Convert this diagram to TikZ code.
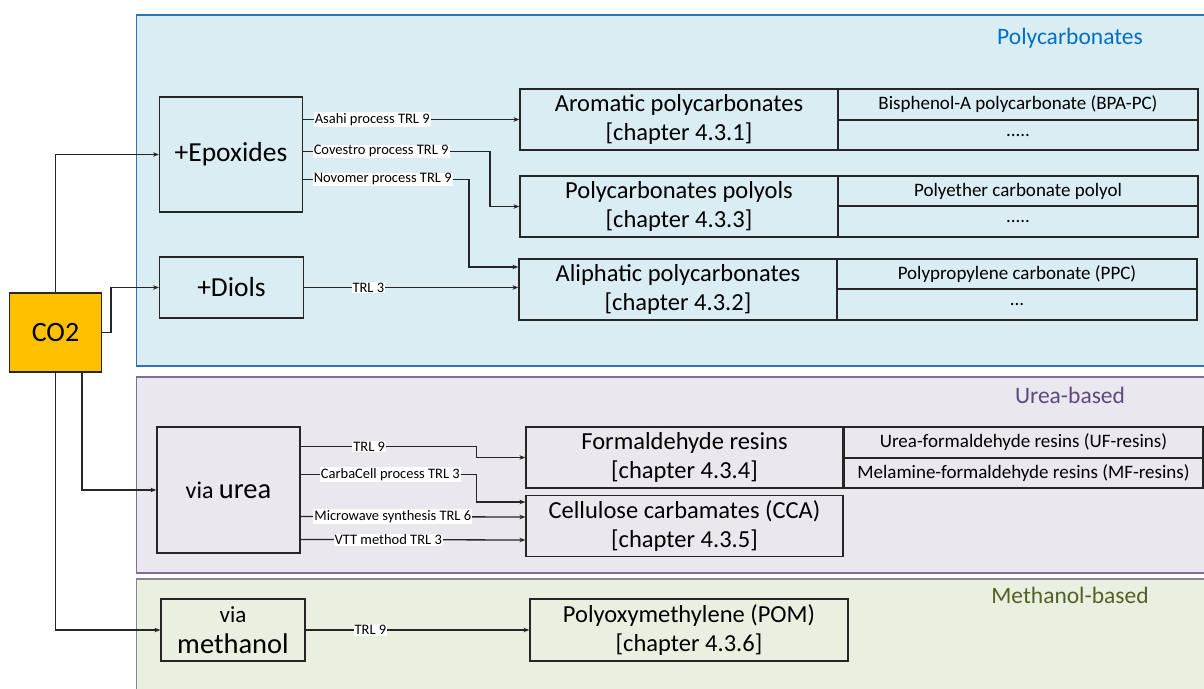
\documentclass[tikz,border=0pt]{standalone}
\usepackage{fontspec}
\setmainfont{Carlito}
\usetikzlibrary{arrows.meta}
\definecolor{pcfill}{RGB}{218,237,243}
\definecolor{pcline}{RGB}{46,117,182}
\definecolor{pctext}{RGB}{0,112,192}
\definecolor{ufill}{RGB}{234,231,239}
\definecolor{uline}{RGB}{128,108,150}
\definecolor{utext}{RGB}{96,74,123}
\definecolor{mfill}{RGB}{234,240,223}
\definecolor{mline}{RGB}{140,128,155}
\definecolor{mtext}{RGB}{79,98,40}
\definecolor{co2}{RGB}{255,192,0}
\definecolor{ink}{RGB}{38,38,38}
\tikzset{
  box/.style={draw=ink, line width=1.2pt, inner sep=0pt, align=center, text=black},
  big/.style={font=\fontsize{24.5}{29}\selectfont},
  sub/.style={font=\fontsize{19}{21}\selectfont},
  lbl/.style={fill=white, inner sep=1pt, font=\fontsize{14.5}{16}\selectfont, text=black},
  conn/.style={draw=ink, line width=1.3pt, -{Stealth[length=6pt,width=4.5pt]}},
  ttl/.style={font=\fontsize{23.5}{27}\selectfont}
}
\begin{document}
\begin{tikzpicture}[x=1pt,y=-1pt]
\useasboundingbox (0,0) rectangle (1204,688);
\fill[white] (0,0) rectangle (1204,688);
% panels
\filldraw[fill=pcfill, draw=pcline, line width=1.5pt] (136.5,15) rectangle (1215,366);
\filldraw[fill=ufill, draw=uline, line width=1.5pt] (136.5,377) rectangle (1215,573);
\filldraw[fill=mfill, draw=mline, line width=1.5pt] (136.5,579) rectangle (1215,700);
\node[ttl, text=pctext] (t1) at (1070,38) {Polycarbonates};
\node[ttl, text=utext] (t2) at (1070,395) {Urea-based};
\node[ttl, text=mtext] (t3) at (1070,595) {Methanol-based};
% source
\node[box, fill=co2, minimum width=92pt, minimum height=79pt, font=\fontsize{28}{32}\selectfont] (co2) at (55.5,332.5) {CO2};
% inputs
\node[box, fill=pcfill, minimum width=143pt, minimum height=115pt, font=\fontsize{27.5}{32}\selectfont] (epox) at (231,154.5) {+Epoxides};
\node[box, fill=pcfill, minimum width=144pt, minimum height=61pt, font=\fontsize{27.5}{32}\selectfont] (diols) at (231.5,287.5) {+Diols};
\node[box, fill=ufill, minimum width=143pt, minimum height=126pt] (urea) at (228.5,490) {\fontsize{24}{29}\selectfont via \fontsize{28.5}{32}\selectfont urea};
\node[box, fill=mfill, minimum width=144pt, minimum height=62pt, font=\fontsize{28.5}{30}\selectfont] (meth) at (233,630) {{\fontsize{23}{25}\selectfont via}\\[1pt]methanol};
% products: polycarbonates
\node[box, big, fill=pcfill, minimum width=318pt, minimum height=61pt] (arom) at (679,119.5) {Aromatic polycarbonates\\{}[chapter 4.3.1]};
\node[box, sub, fill=pcfill, minimum width=360pt, minimum height=31pt] (arom1) at (1018,104.5) {Bisphenol-A polycarbonate (BPA-PC)};
\node[box, sub, fill=pcfill, minimum width=360pt, minimum height=30pt] (arom2) at (1018,135) {.....};
\node[box, big, fill=pcfill, minimum width=318pt, minimum height=61pt] (poly) at (679,206.5) {Polycarbonates polyols\\{}[chapter 4.3.3]};
\node[box, sub, fill=pcfill, minimum width=360pt, minimum height=30pt] (poly1) at (1018,191) {Polyether carbonate polyol};
\node[box, sub, fill=pcfill, minimum width=360pt, minimum height=31pt] (poly2) at (1018,221.5) {.....};
\node[box, big, fill=pcfill, minimum width=318pt, minimum height=61pt] (aliph) at (678,289.5) {Aliphatic polycarbonates\\{}[chapter 4.3.2]};
\node[box, sub, fill=pcfill, minimum width=360pt, minimum height=30pt] (aliph1) at (1017,274) {Polypropylene carbonate (PPC)};
\node[box, sub, fill=pcfill, minimum width=360pt, minimum height=31pt] (aliph2) at (1017,304.5) {...};
% urea products
\node[box, big, fill=ufill, minimum width=317pt, minimum height=61pt] (form) at (684.5,457.5) {Formaldehyde resins\\{}[chapter 4.3.4]};
\node[box, sub, fill=ufill, minimum width=359pt, minimum height=31pt] (form1) at (1023.5,442.5) {Urea-formaldehyde resins (UF-resins)};
\node[box, sub, fill=ufill, minimum width=359pt, minimum height=30pt] (form2) at (1023.5,473) {Melamine-formaldehyde resins (MF-resins)};
\node[box, big, fill=ufill, minimum width=317pt, minimum height=61pt] (cell) at (684.5,526) {Cellulose carbamates (CCA)\\{}[chapter 4.3.5]};
% methanol product
\node[box, big, fill=mfill, minimum width=318pt, minimum height=62pt] (pom) at (689,630) {Polyoxymethylene (POM)\\{}[chapter 4.3.6]};
% connectors from CO2
\draw[conn] (co2.north) |- (epox.west);
\draw[conn] (co2.east) -- ++(9,0) |- (diols.west);
\draw[conn] ([xshift=26.5pt]co2.south) |- (urea.west);
\draw[conn] (co2.south) |- (meth.west);
% epoxides
\draw[conn] (epox.east |- arom.west) -- node[lbl, pos=0, anchor=west, xshift=10pt] {Asahi process TRL 9} (arom.west);
\draw[conn] ([yshift=-55pt]epox.north east) -- node[lbl, pos=0, anchor=west, xshift=9pt] {Covestro process TRL 9} ++(187,0) |- (poly.west);
\draw[conn] ([yshift=-83pt]epox.north east) -- node[lbl, pos=0, anchor=west, xshift=9pt] {Novomer process TRL 9} ++(166,0) |- ([yshift=22.5pt]aliph.west);
\draw[conn] (diols.east) -- node[lbl, pos=0.3] {TRL 3} (aliph.west |- diols.east);
% urea
\draw[conn] ([yshift=-20pt]urea.north east) -- node[lbl, pos=0.39] {TRL 9} ++(176,0) |- (form.west);
\draw[conn] ([yshift=-48pt]urea.north east) -- node[lbl, pos=0.51] {CarbaCell process TRL 3} ++(176,0) |- ([yshift=24pt]cell.west);
\draw[conn] ([yshift=-90pt]urea.north east) -- node[lbl, pos=0.41] {Microwave synthesis TRL 6} ([yshift=9pt]cell.west);
\draw[conn] ([yshift=-113pt]urea.north east) -- node[lbl, pos=0.39] {VTT method TRL 3} ([yshift=-14pt]cell.west);
% methanol
\draw[conn] (meth.east) -- node[lbl, pos=0.29] {TRL 9} (pom.west);
\end{tikzpicture}
\end{document}
